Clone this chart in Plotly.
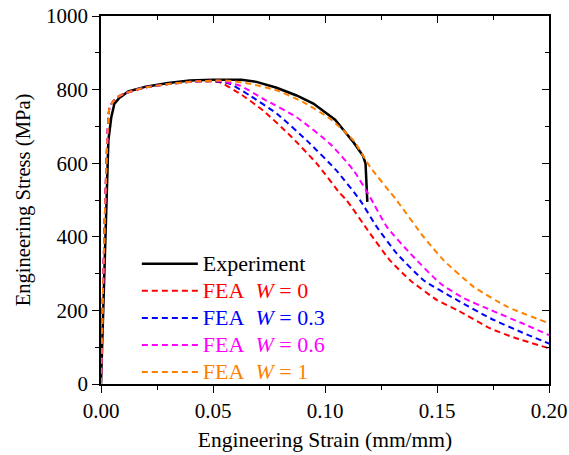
import plotly.graph_objects as go

# Experiment
exp_strain = [0.0, 0.0023, 0.0033, 0.0046, 0.0060, 0.0083, 0.0122, 0.020, 0.030, 0.0396, 0.050, 0.0627,
              0.0694, 0.0784, 0.0873, 0.0948, 0.1045, 0.1127, 0.1169, 0.1181, 0.1186, 0.1189]
exp_stress = [0, 508, 662, 725, 762, 778, 795, 808, 818, 825, 827, 827,
              821, 805, 784, 762, 718, 657, 621, 599, 550, 495]

# FEA common pre-peak part
pre_strain = [0.0, 0.0038, 0.0050, 0.0070, 0.0100, 0.015, 0.020, 0.030, 0.040]
pre_stress = [0, 752, 764, 778, 788, 798, 806, 815, 821]

w0_strain = pre_strain + [0.048, 0.053, 0.062, 0.0724, 0.0843, 0.0963, 0.1067, 0.1097, 0.1201, 0.129, 0.138, 0.150, 0.159, 0.1738, 0.185, 0.200]
w0_stress = pre_stress + [822, 820, 789, 743, 676, 599, 518, 499, 409, 336, 282, 228, 201, 151, 125, 97]

w03_strain = pre_strain + [0.050, 0.0575, 0.0664, 0.0784, 0.0918, 0.105, 0.1157, 0.1231, 0.132, 0.144, 0.159, 0.174, 0.188, 0.200]
w03_stress = pre_stress + [823, 816, 784, 735, 662, 581, 499, 427, 355, 282, 228, 178, 140, 110]

w06_strain = pre_strain + [0.052, 0.062, 0.0724, 0.0873, 0.1022, 0.1127, 0.1201, 0.1276, 0.138, 0.1515, 0.162, 0.174, 0.188, 0.200]
w06_stress = pre_stress + [824, 811, 775, 725, 653, 581, 508, 427, 355, 273, 233, 201, 165, 133]

w1_strain = pre_strain + [0.055, 0.0664, 0.0784, 0.0903, 0.1022, 0.1127, 0.1201, 0.132, 0.144, 0.153, 0.1664, 0.1813, 0.200]
w1_stress = pre_stress + [825, 816, 798, 766, 721, 662, 590, 499, 400, 336, 264, 210, 165]

x_ticks = [0.0, 0.05, 0.10, 0.15, 0.20]
x_ticklabels = ["0.00", "0.05", "0.10", "0.15", "0.20"]
y_ticks = [0, 200, 400, 600, 800, 1000]

FONT = "Liberation Serif, Times New Roman, serif"
NB = "\u00a0"

fig = go.Figure()
fig.add_trace(go.Scatter(x=exp_strain, y=exp_stress, mode="lines",
                         line=dict(color="black", width=2.5),
                         name='<span style="font-size:22px">Experiment</span>'))
series = [
    (w0_strain, w0_stress, "#FF0000", "0"),
    (w03_strain, w03_stress, "#0000FF", "0.3"),
    (w06_strain, w06_stress, "#FF00FF", "0.6"),
    (w1_strain, w1_stress, "#FF8000", "1"),
]
for xs, ys, col, w in series:
    fig.add_trace(go.Scatter(
        x=xs, y=ys, mode="lines",
        line=dict(color=col, width=2, dash="6px,4px", shape="spline", smoothing=0.5),
        name=f'<span style="color:{col};font-size:22px">FEA{NB}{NB}<i>W</i>{NB}={NB}{w}</span>'))

# invisible trace for mirrored axes
fig.add_trace(go.Scatter(x=[0, 0.2], y=[0, 1000], xaxis="x2", yaxis="y2", mode="lines",
                         line=dict(width=0, color="rgba(0,0,0,0)"), showlegend=False, hoverinfo="skip"))

axis_common = dict(showline=True, linecolor="black", linewidth=1.5, showgrid=False, zeroline=False,
                   tickcolor="black", ticklen=7, tickwidth=1.2, automargin=False,
                   tickfont=dict(family=FONT, size=21, color="black"))

fig.update_layout(
    width=569, height=455,
    margin=dict(l=101, r=20, t=16, b=71),
    paper_bgcolor="white", plot_bgcolor="white",
    font=dict(family=FONT, color="black"),
    xaxis=dict(range=[0, 0.2], tickvals=x_ticks, ticktext=x_ticklabels, ticks="outside",
               minor=dict(dtick=0.025, ticks="outside", ticklen=4, tickcolor="black"),
               title=dict(text="Engineering Strain (mm/mm)", font=dict(family=FONT, size=21.5), standoff=10),
               **axis_common),
    yaxis=dict(range=[0, 1000], tickvals=y_ticks, ticks="outside",
               minor=dict(dtick=100, ticks="outside", ticklen=4, tickcolor="black"),
               title=dict(text="Engineering Stress (MPa)", font=dict(family=FONT, size=20.6), standoff=10),
               **axis_common),
    xaxis2=dict(range=[0, 0.2], overlaying="x", side="top", tickvals=x_ticks, ticks="inside",
                showticklabels=False,
                minor=dict(dtick=0.025, ticks="inside", ticklen=4, tickcolor="black"),
                **axis_common),
    yaxis2=dict(range=[0, 1000], overlaying="y", side="right", tickvals=y_ticks, ticks="inside",
                showticklabels=False,
                minor=dict(dtick=100, ticks="inside", ticklen=4, tickcolor="black"),
                **axis_common),
    legend=dict(x=0.080, y=0.377, xanchor="left", yanchor="top", bgcolor="rgba(0,0,0,0)",
                font=dict(family=FONT, size=18.5, color="black"), tracegroupgap=0, itemwidth=56),
    showlegend=True,
)

fig.write_html("out.html")
